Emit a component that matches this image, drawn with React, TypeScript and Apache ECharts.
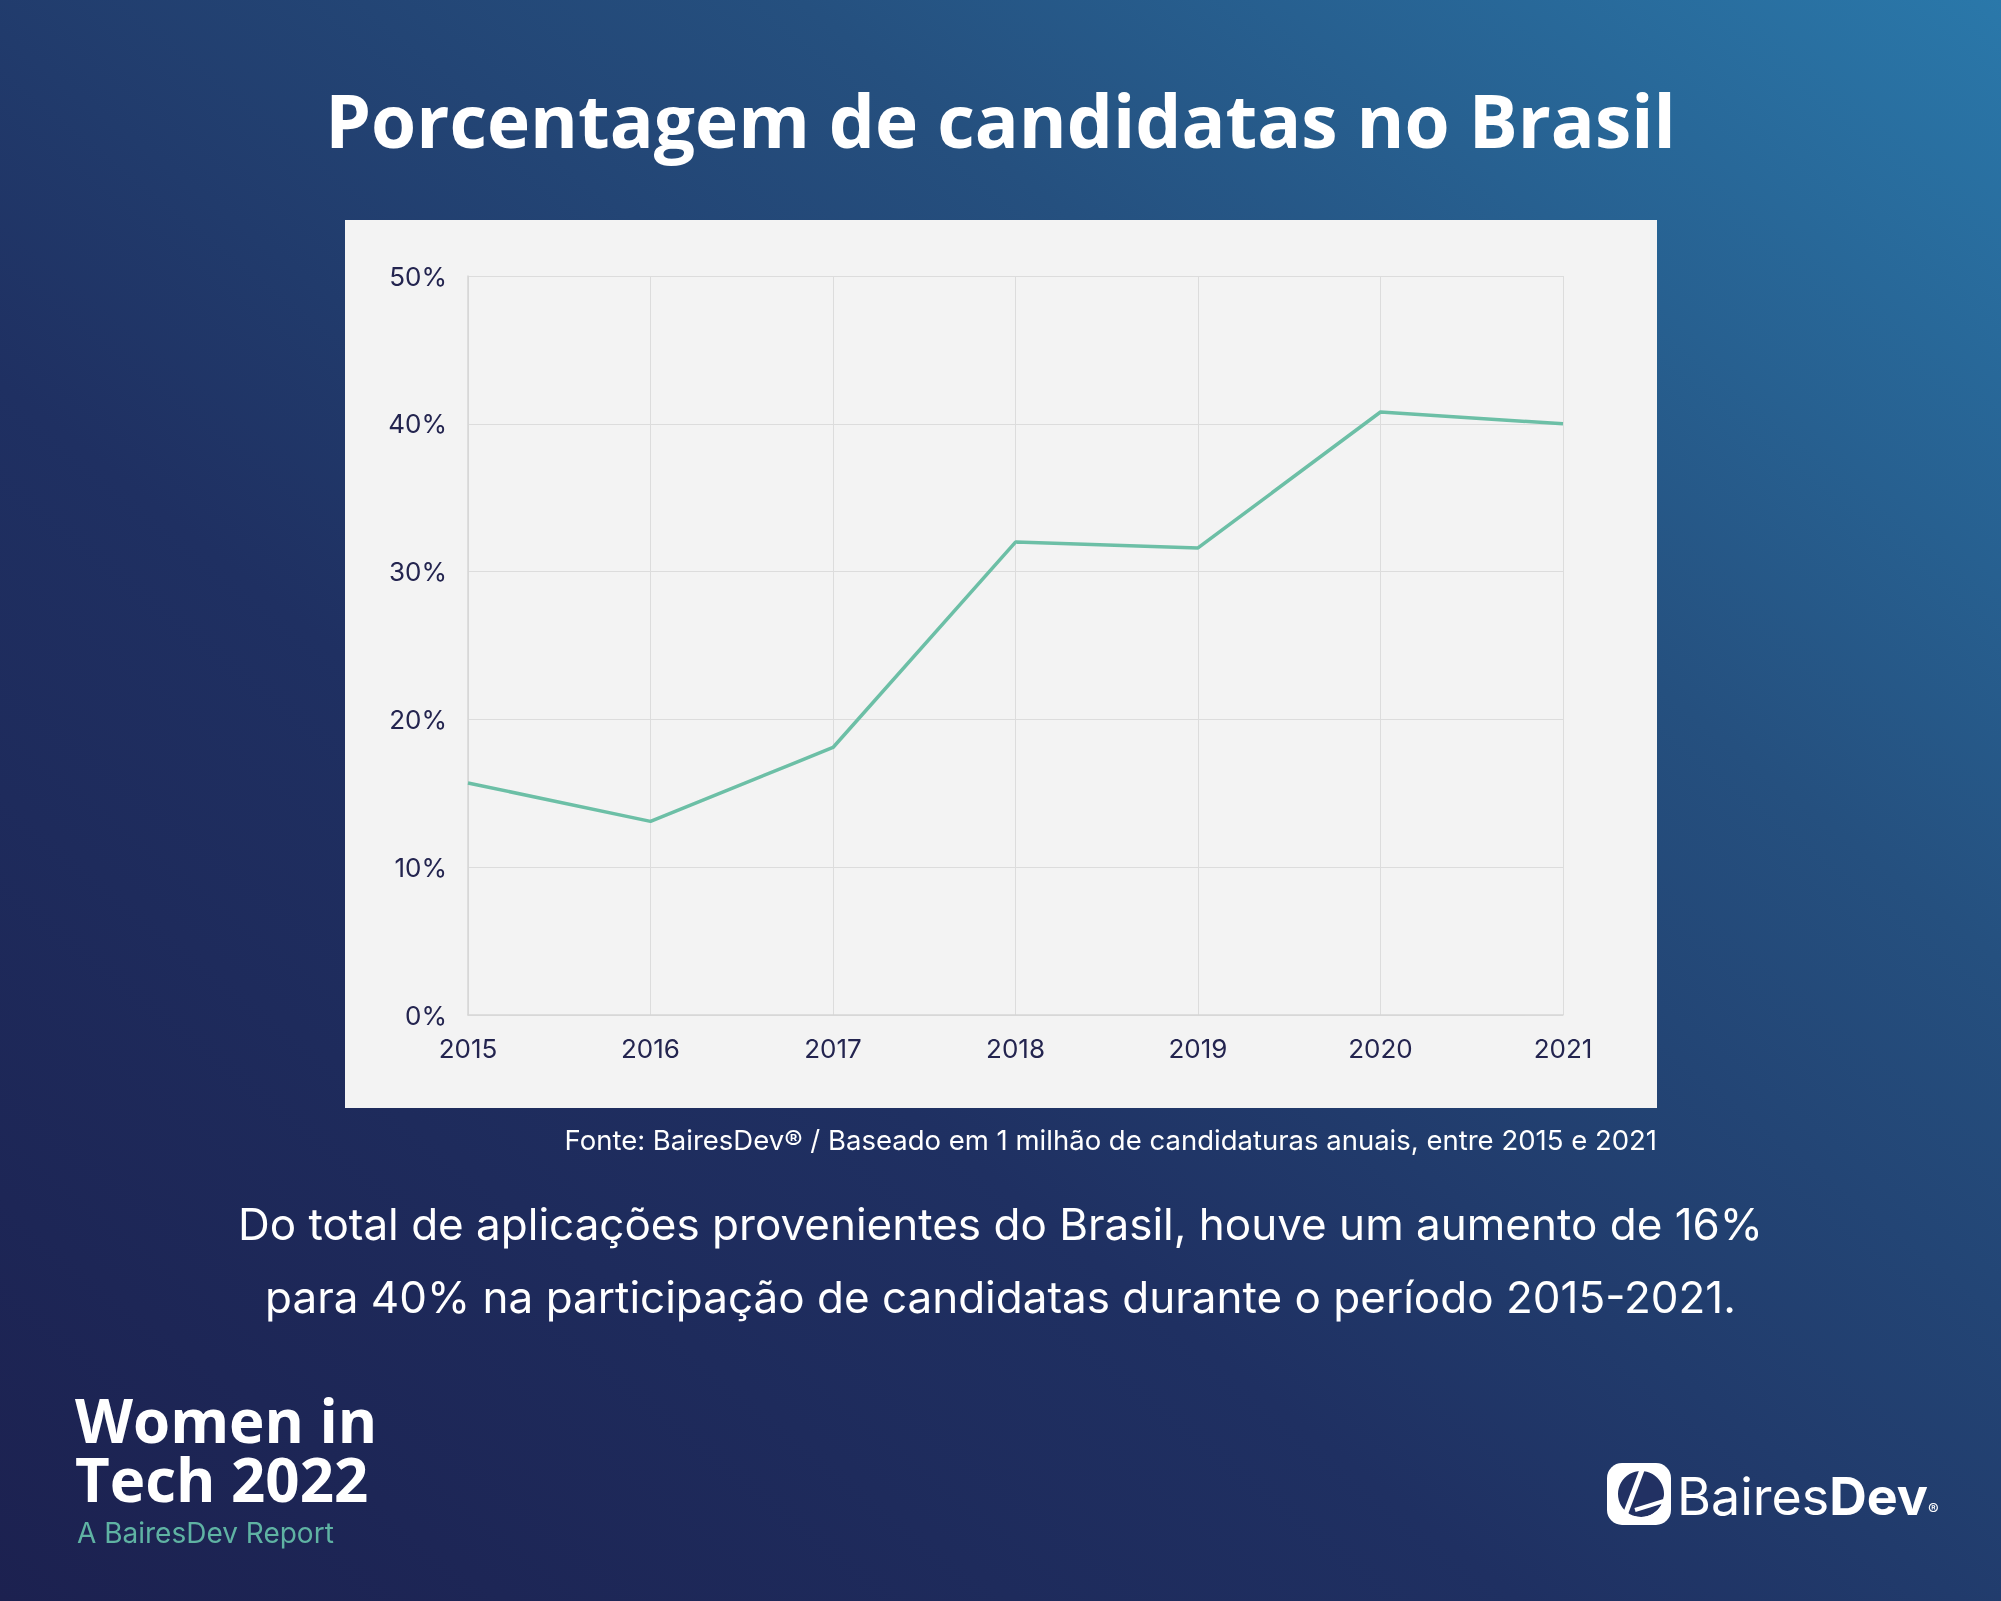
import { useEffect, useRef } from 'react';
import * as echarts from 'echarts';

const years = ['2015', '2016', '2017', '2018', '2019', '2020', '2021'];
const shares = [15.7, 13.1, 18.1, 32.0, 31.6, 40.8, 40.0];

const title = 'Porcentagem de candidatas no Brasil';
const source = 'Fonte: BairesDev® / Baseado em 1 milhão de candidaturas anuais, entre 2015 e 2021';
const summary = [
  'Do total de aplicações provenientes do Brasil, houve um aumento de 16%',
  'para 40% na participação de candidatas durante o período 2015-2021.',
];
const brandLines = ['Women in', 'Tech 2022'];

const W = 2001;
const H = 1601;
const sans = 'Inter, "Open Sans", sans-serif';
const bold = '"Open Sans", "Noto Sans", sans-serif';

export default function App() {
  const chartRef = useRef<HTMLDivElement>(null);

  useEffect(() => {
    if (!chartRef.current) return;
    const chart = echarts.init(chartRef.current, undefined, { renderer: 'svg' });

    chart.setOption({
      animation: false,
      graphic: [
        {
          type: 'rect',
          z: -10,
          shape: { x: 0, y: 0, width: W, height: H },
          style: {
            fill: new echarts.graphic.LinearGradient(1, 0, 0, 1, [
              { offset: 0, color: '#2a78aa' },
              { offset: 0.3, color: '#25507f' },
              { offset: 0.62, color: '#1f3062' },
              { offset: 1, color: '#1c2150' },
            ]),
          },
        },
        {
          type: 'rect',
          z: -5,
          shape: { x: 345, y: 220, width: 1312, height: 888 },
          style: { fill: '#f3f3f3' },
        },
        {
          type: 'text',
          x: W / 2,
          y: 119,
          style: {
            text: title,
            font: `700 73px ${bold}`,
            fill: '#ffffff',
            align: 'center',
            verticalAlign: 'middle',
          },
        },
        {
          type: 'text',
          x: 1657,
          y: 1140,
          style: {
            text: source,
            font: `400 27.5px ${sans}`,
            fill: '#ffffff',
            align: 'right',
            verticalAlign: 'middle',
          },
        },
        ...summary.map((line, i) => ({
          type: 'text',
          x: W / 2,
          y: 1224 + i * 73,
          style: {
            text: line,
            font: `400 44px ${sans}`,
            fill: '#ffffff',
            align: 'center',
            verticalAlign: 'middle',
          },
        })),
        ...brandLines.map((line, i) => ({
          type: 'text',
          x: 75,
          y: 1420 + i * 59,
          style: {
            text: line,
            font: `700 60px ${bold}`,
            lineHeight: 58,
            fill: '#ffffff',
            verticalAlign: 'middle',
          },
        })),
        {
          type: 'text',
          x: 77,
          y: 1533,
          style: { text: 'A BairesDev Report', font: `400 28px ${sans}`, fill: '#5fb3a3', verticalAlign: 'middle' },
        },
        // logo mark
        {
          type: 'rect',
          shape: { x: 1607, y: 1463, width: 64, height: 62, r: 15 },
          style: { fill: '#ffffff' },
        },
        {
          type: 'circle',
          shape: { cx: 1641, cy: 1494, r: 23 },
          style: { fill: '#223163' },
        },
        {
          type: 'line',
          shape: { x1: 1625, y1: 1515, x2: 1642, y2: 1470 },
          style: { stroke: '#ffffff', lineWidth: 5 },
        },
        {
          type: 'arc',
          shape: { cx: 1641, cy: 1494, r: 25, startAngle: 0.1, endAngle: 1.9 },
          style: { stroke: '#ffffff', lineWidth: 4, fill: 'none' },
        },
        {
          type: 'line',
          shape: { x1: 1635, y1: 1510, x2: 1664, y2: 1501 },
          style: { stroke: '#ffffff', lineWidth: 4 },
        },
        {
          type: 'text',
          x: 1677,
          y: 1496,
          style: {
            text: '{a|Baires}{b|Dev}{c|®}',
            verticalAlign: 'middle',
            rich: {
              a: { font: `400 52px ${sans}`, fill: '#ffffff' },
              b: { font: `700 52px ${sans}`, fill: '#ffffff' },
              c: { font: `400 16px ${sans}`, fill: '#ffffff', padding: [26, 0, 0, 0] },
            },
          },
        },
      ],
      grid: { left: 468, right: W - 1563, top: 276, bottom: H - 1015 },
      xAxis: {
        type: 'category',
        data: years,
        boundaryGap: false,
        axisLine: { lineStyle: { color: '#d6d6d6', width: 1.5 } },
        axisTick: { show: false },
        splitLine: { show: true, lineStyle: { color: '#dcdcdc', width: 1 } },
        axisLabel: { color: '#23244f', fontSize: 26, fontFamily: sans, margin: 20 },
      },
      yAxis: {
        type: 'value',
        min: 0,
        max: 50,
        interval: 10,
        axisLine: { show: true, lineStyle: { color: '#d6d6d6', width: 1.5 } },
        axisTick: { show: false },
        splitLine: { lineStyle: { color: '#dcdcdc', width: 1 } },
        axisLabel: { color: '#23244f', fontSize: 26, fontFamily: sans, margin: 21, formatter: '{value}%' },
      },
      series: [
        {
          type: 'line',
          data: shares,
          showSymbol: false,
          lineStyle: { color: '#6cbfa6', width: 3.5 },
        },
      ],
    });

    return () => chart.dispose();
  }, []);

  return <div ref={chartRef} style={{ position: 'fixed', left: 0, top: 0, width: W, height: H }} />;
}
